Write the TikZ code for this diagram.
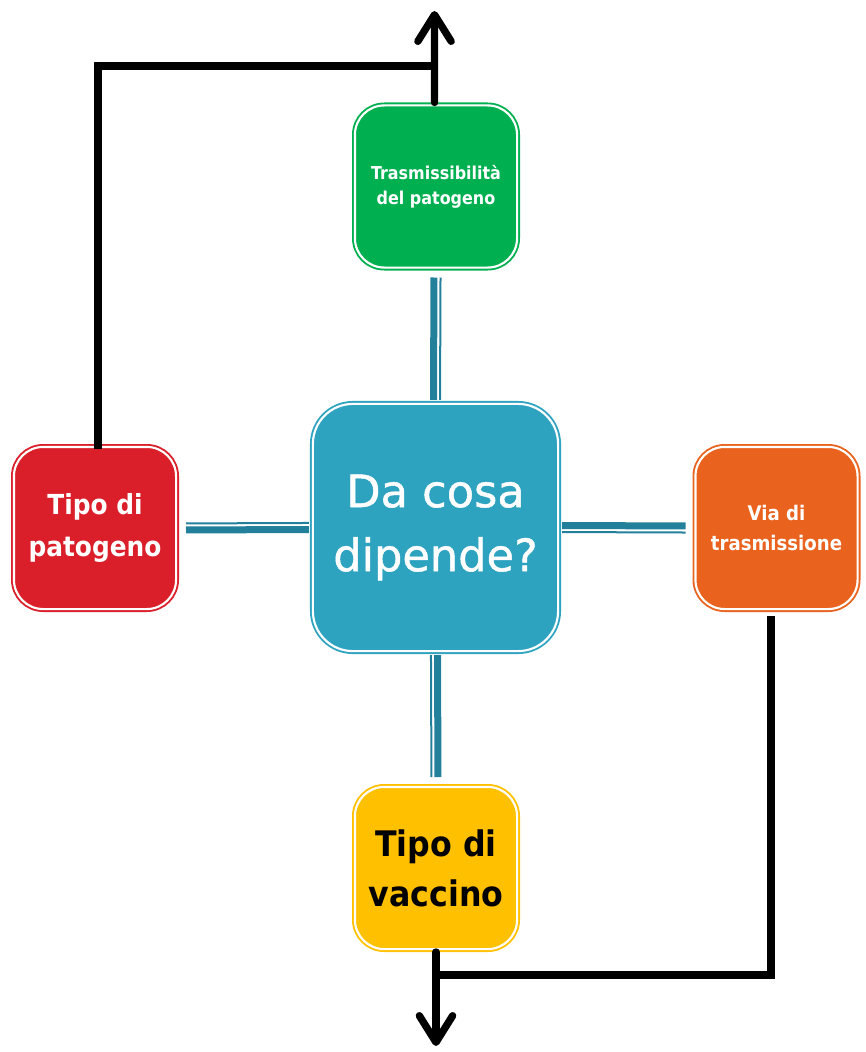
\documentclass[tikz,border=0pt]{standalone}
\usepackage{fontspec}
\setmainfont{DejaVu Sans}
\newfontfamily\headfont{DejaVu Sans}[FakeBold=1]
\newfontfamily\cardfont{DejaVu Sans Condensed}
\usetikzlibrary{arrows.meta}

\definecolor{boxred}{RGB}{218,31,42}
\definecolor{boxorange}{RGB}{233,99,30}
\definecolor{boxgreen}{RGB}{0,176,80}
\definecolor{boxyellow}{RGB}{255,192,0}
\definecolor{boxteal}{RGB}{46,163,192}
\definecolor{linkteal}{RGB}{35,128,155}

\tikzset{
  card/.style={draw=#1, fill=#1, double=white, double distance=1.6pt, line width=1.4pt,
    rounded corners=22pt, minimum width=121.6pt, minimum height=121.6pt,
    outer sep=2.2pt, inner sep=0pt, align=center, text=white},
  barthick/.style={draw=linkteal, line width=5.25pt, shorten <=0.75pt, shorten >=5.25pt},
  barthin/.style={draw=linkteal, line width=1.5pt, shorten <=0.75pt, shorten >=5.25pt},
  flowline/.style={draw=black, line width=5.5pt},
  flowarrow/.style={flowline, line cap=round, -{Straight Barb[length=20pt, width=25pt, round]}},
}

\begin{document}
\begin{tikzpicture}[x=0.75pt, y=-0.75pt]
  \useasboundingbox (0,0) rectangle (866,1052);

  % boxes
  \node[card=boxteal, rounded corners=30pt, minimum width=183.9pt, minimum height=185.4pt,
        font=\headfont\fontsize{33.5}{48}\selectfont] (center) at (435.5,527.5) {Da cosa\\dipende?};
  \node[card=boxgreen, font=\cardfont\bfseries\fontsize{13.3}{19}\selectfont] (green) at (436,186.5) {Trasmissibilità\\del patogeno};
  \node[card=boxred, font=\cardfont\bfseries\fontsize{20.7}{31.5}\selectfont] (red) at (95,528) {Tipo di\\patogeno};
  \node[card=boxorange, font=\cardfont\bfseries\fontsize{15.1}{22}\selectfont] (orange) at (776.5,528) {Via di\\trasmissione};
  \node[card=boxyellow, text=black, font=\cardfont\bfseries\fontsize{26.4}{37.5}\selectfont] (yellow) at (436,868) {Tipo di\\vaccino};

  % teal links
  \draw[barthick, transform canvas={xshift=-1.5pt}] (center.north) -- (green.south);
  \draw[barthin, transform canvas={xshift=3.4pt}] (center.north) -- (green.south);
  \draw[barthick, transform canvas={xshift=1.5pt}] (center.south) -- (yellow.north);
  \draw[barthin, transform canvas={xshift=-3.4pt}] (center.south) -- (yellow.north);
  \draw[barthick, transform canvas={yshift=-1.5pt}] (center.west) -- (red.east);
  \draw[barthin, transform canvas={yshift=3.4pt}] (center.west) -- (red.east);
  \draw[barthick, transform canvas={yshift=1.5pt}] (center.east) -- (orange.west);
  \draw[barthin, transform canvas={yshift=-3.4pt}] (center.east) -- (orange.west);

  % black flow lines
  \coordinate (topjoint) at (434.5,66);
  \coordinate (toptip) at (434.5,11);
  \coordinate (botjoint) at (436,975);
  \coordinate (bottip) at (436,1046);
  \draw[flowline, shorten <=-3.75pt] ([xshift=2.25pt]red.north) |- (topjoint);
  \draw[flowarrow] ([xshift=-1.1pt]green.north) -- (toptip);
  \draw[flowline, shorten <=3pt] ([xshift=-4.1pt]orange.south) |- (botjoint);
  \draw[flowarrow] (yellow.south) -- (bottip);
\end{tikzpicture}
\end{document}
